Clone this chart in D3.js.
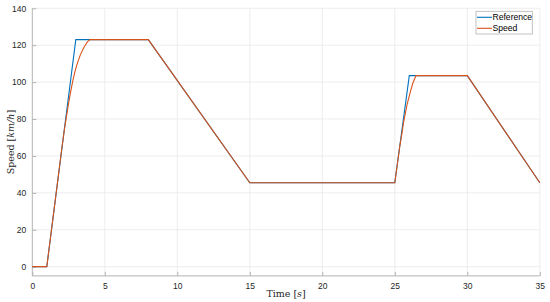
<!DOCTYPE html>
<html>
<head>
<meta charset="utf-8">
<style>
body { margin: 0; background: #fff; }
.tick text { font-family: "Liberation Sans", Arial, sans-serif; font-size: 8.5px; fill: #262626; }
.grid line { stroke: #e8e8e8; stroke-width: 0.8px; }
.axis path, .axis line { stroke: #b3b3b3; }
.lbl { font-family: "DejaVu Serif", "Liberation Serif", serif; font-size: 9.5px; fill: #262626; }
.leg { font-family: "Liberation Sans", Arial, sans-serif; font-size: 8.6px; fill: #000; }
</style>
</head>
<body>
<svg width="550" height="302"></svg>
<script src="https://d3js.org/d3.v7.min.js"></script>
<script>

var refTime  = [0, 1, 3, 8, 15, 25, 26, 30, 35];
var refSpeed = [0, 0, 123, 123, 45.5, 45.5, 103.5, 103.5, 45.5];

var spdTime  = [0, 1, 2.05, 2.2, 2.35, 2.5, 2.65, 2.8, 2.95, 3.1, 3.3, 3.5, 3.65, 3.8, 3.98, 8, 15, 25, 25.35, 25.5, 25.6, 25.75, 25.85, 26.0, 26.1, 26.25, 26.46, 30, 35];
var spdSpeed = [0, 0, 65, 73.5, 81, 88.5, 95, 101, 106, 110, 114.5, 118, 120, 121.8, 123, 123, 45.5, 45.5, 65.5, 72.5, 78, 84, 88, 92.5, 95.5, 99.5, 103.5, 103.5, 45.5];

var xTicks = [0, 5, 10, 15, 20, 25, 30, 35];
var yTicks = [0, 20, 40, 60, 80, 100, 120, 140];

var seriesNames = ["Reference", "Speed"];
var seriesColors = ["#0072BD", "#D95319"];

var svg = d3.select("svg");
var mLeft = 32.3, mRight = 539.8, mTop = 8.3, mBottom = 275.9;

var x = d3.scaleLinear().domain([0, 35]).range([mLeft, mRight]);
var y = d3.scaleLinear().domain([-5, 140]).range([mBottom, mTop]);

// grid
var grid = svg.append("g").attr("class", "grid");
grid.selectAll(".gx").data(xTicks.slice(1)).enter().append("line")
    .attr("x1", function(d) { return x(d); }).attr("x2", function(d) { return x(d); })
    .attr("y1", mTop).attr("y2", mBottom);
grid.selectAll(".gy").data(yTicks).enter().append("line")
    .attr("x1", mLeft).attr("x2", mRight)
    .attr("y1", function(d) { return y(d); }).attr("y2", function(d) { return y(d); });

// axes, ticks pointing inward
var xAxis = svg.append("g").attr("class", "axis")
    .attr("transform", "translate(0," + mBottom + ")")
    .call(d3.axisBottom(x).tickValues(xTicks).tickSizeInner(-4).tickSizeOuter(0).tickPadding(7));
var yAxis = svg.append("g").attr("class", "axis")
    .attr("transform", "translate(" + mLeft + ",0)")
    .call(d3.axisLeft(y).tickValues(yTicks).tickSizeInner(-4).tickSizeOuter(0).tickPadding(6));
xAxis.select(".domain").attr("d", "M" + mLeft + ",0H" + mRight);
yAxis.select(".domain").attr("d", "M0," + mTop + "V" + mBottom);

// lines
var line = d3.line()
    .x(function(d) { return x(d[0]); })
    .y(function(d) { return y(d[1]); });

var refData = d3.zip(refTime, refSpeed);
var spdData = d3.zip(spdTime, spdSpeed);

svg.append("path").datum(refData)
    .attr("d", line).attr("fill", "none")
    .attr("stroke", seriesColors[0]).attr("stroke-width", 1.1);
svg.append("path").datum(spdData)
    .attr("d", line).attr("fill", "none")
    .attr("stroke", seriesColors[1]).attr("stroke-width", 1.1);

// labels
svg.append("text").attr("class", "lbl")
    .attr("x", (mLeft + mRight) / 2).attr("y", 297)
    .attr("text-anchor", "middle")
    .html('Time [<tspan font-style="italic">s</tspan>]');

svg.append("text").attr("class", "lbl")
    .attr("transform", "translate(14," + ((mTop + mBottom) / 2) + ") rotate(-90)")
    .attr("text-anchor", "middle")
    .html('Speed [<tspan font-style="italic">km/h</tspan>]');

// legend
var leg = svg.append("g").attr("transform", "translate(476,11.3)");
leg.append("rect").attr("width", 56.3).attr("height", 22.7)
    .attr("fill", "#fff").attr("stroke", "#b3b3b3").attr("stroke-width", 0.8);
seriesNames.forEach(function(name, i) {
  var yy = 6 + i * 11;
  leg.append("line").attr("x1", 1).attr("x2", 16).attr("y1", yy).attr("y2", yy)
      .attr("stroke", seriesColors[i]).attr("stroke-width", 1.1);
  leg.append("text").attr("class", "leg").attr("x", 16.5).attr("y", yy + 3.1).text(name);
});
</script>
</body>
</html>
